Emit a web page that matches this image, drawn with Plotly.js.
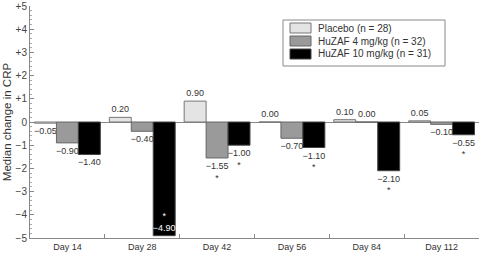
<!DOCTYPE html>
<html><head><meta charset="utf-8">
<script src="https://cdn.plot.ly/plotly-3.0.1.min.js"></script>
<style>html,body{margin:0;padding:0;background:#fff}#c{width:481px;height:255px}</style>
</head><body><div id="c"></div>
<script>
const categories = ["Day 14","Day 28","Day 42","Day 56","Day 84","Day 112"];
const placebo = [-0.05, 0.20, 0.90, 0.00, 0.10, 0.05];
const huzaf4 = [-0.90, -0.40, -1.55, -0.70, 0.00, -0.10];
const huzaf10 = [-1.40, -4.90, -1.00, -1.10, -2.10, -0.55];
const sig4 = [false, false, true, false, false, false];
const sig10 = [false, true, true, true, true, true];
const seriesNames = ["Placebo (n = 28)", "HuZAF 4 mg/kg (n = 32)", "HuZAF 10 mg/kg (n = 31)"];
const seriesColors = ["#e4e4e4", "#9a9a9a", "#000000"];
const seriesLines = ["#777", "#666", "#444"];
const yTickVals = [5,4,3,2,1,0,-1,-2,-3,-4,-5];
const yTickText = ["+5","+4","+3","+2","+1","0","\u22121","\u22122","\u22123","\u22124","\u22125"];

const W = 481, H = 255, M = {l: 30, r: 2, t: 6, b: 17};
const px = x => (x - M.l) / (W - M.l - M.r);
const py = y => (H - M.b - y) / (H - M.t - M.b);

function fmt(v){ const s = Math.abs(v).toFixed(2); return v < 0 ? "\u2212" + s : s; }
function labels(vals, sig){
  return vals.map((v,i)=>{
    let t = fmt(v);
    if (sig && sig[i]) t = (v < -4) ? ("*<br>" + t) : (t + "<br>*");
    return t;
  });
}
const font = "Liberation Sans, Arial, sans-serif";
function mk(vals, i, sig){
  return {
    type: "bar", x: categories, y: vals, name: seriesNames[i],
    marker: {color: seriesColors[i], line: {color: seriesLines[i], width: 1}},
    text: labels(vals, sig),
    textposition: vals.map(v => v < -4 ? "inside" : "outside"),
    textangle: 0,
    insidetextanchor: "end",
    insidetextfont: {color: "#fff", size: 9, family: font},
    outsidetextfont: {color: "#333", size: 9, family: font},
    constraintext: "none",
    cliponaxis: false,
    hoverinfo: "skip"
  };
}
const data = [ mk(placebo, 0, null), mk(huzaf4, 1, sig4), mk(huzaf10, 2, sig10) ];

// custom legend
const shapes = [{type: "rect", xref: "paper", yref: "paper",
  x0: px(283), x1: px(445), y0: py(20), y1: py(66),
  line: {color: "#888", width: 1}, fillcolor: "#fff", layer: "above"}];
const annotations = [];
const rowTop = [23, 36, 49];
seriesNames.forEach((n, i) => {
  shapes.push({type: "rect", xref: "paper", yref: "paper",
    x0: px(290), x1: px(311), y0: py(rowTop[i]), y1: py(rowTop[i] + 10),
    line: {color: seriesLines[i], width: 1}, fillcolor: seriesColors[i], layer: "above"});
  annotations.push({xref: "paper", yref: "paper", x: px(316), y: py(rowTop[i] + 5),
    xanchor: "left", yanchor: "middle", showarrow: false, text: n,
    font: {size: 10, color: "#333", family: font}});
});

const layout = {
  width: W, height: H,
  margin: M,
  paper_bgcolor: "#fff", plot_bgcolor: "#fff",
  font: {family: font, size: 9, color: "#333"},
  barmode: "group", bargap: 0.12, bargroupgap: 0,
  showlegend: false,
  shapes: shapes, annotations: annotations,
  xaxis: {type: "category", tickson: "boundaries", ticks: "inside", ticklen: 4,
          tickcolor: "#888", showline: true, linecolor: "#888", linewidth: 1,
          showgrid: false, tickfont: {size: 9, color: "#333"}, fixedrange: true},
  yaxis: {range: [-5, 5], tickvals: yTickVals, ticktext: yTickText,
          ticks: "inside", ticklen: 4, tickcolor: "#888",
          minor: {dtick: 0.2, ticks: "inside", ticklen: 2, tickcolor: "#aaa", showgrid: false},
          showline: true, linecolor: "#888", linewidth: 1, showgrid: false,
          zeroline: true, zerolinecolor: "#888", zerolinewidth: 1,
          tickfont: {size: 10, color: "#444"},
          title: {text: "Median change in CRP", font: {size: 11.5, color: "#333"}, standoff: 1},
          fixedrange: true}
};
Plotly.newPlot("c", data, layout, {displayModeBar: false, staticPlot: true});
</script></body></html>
